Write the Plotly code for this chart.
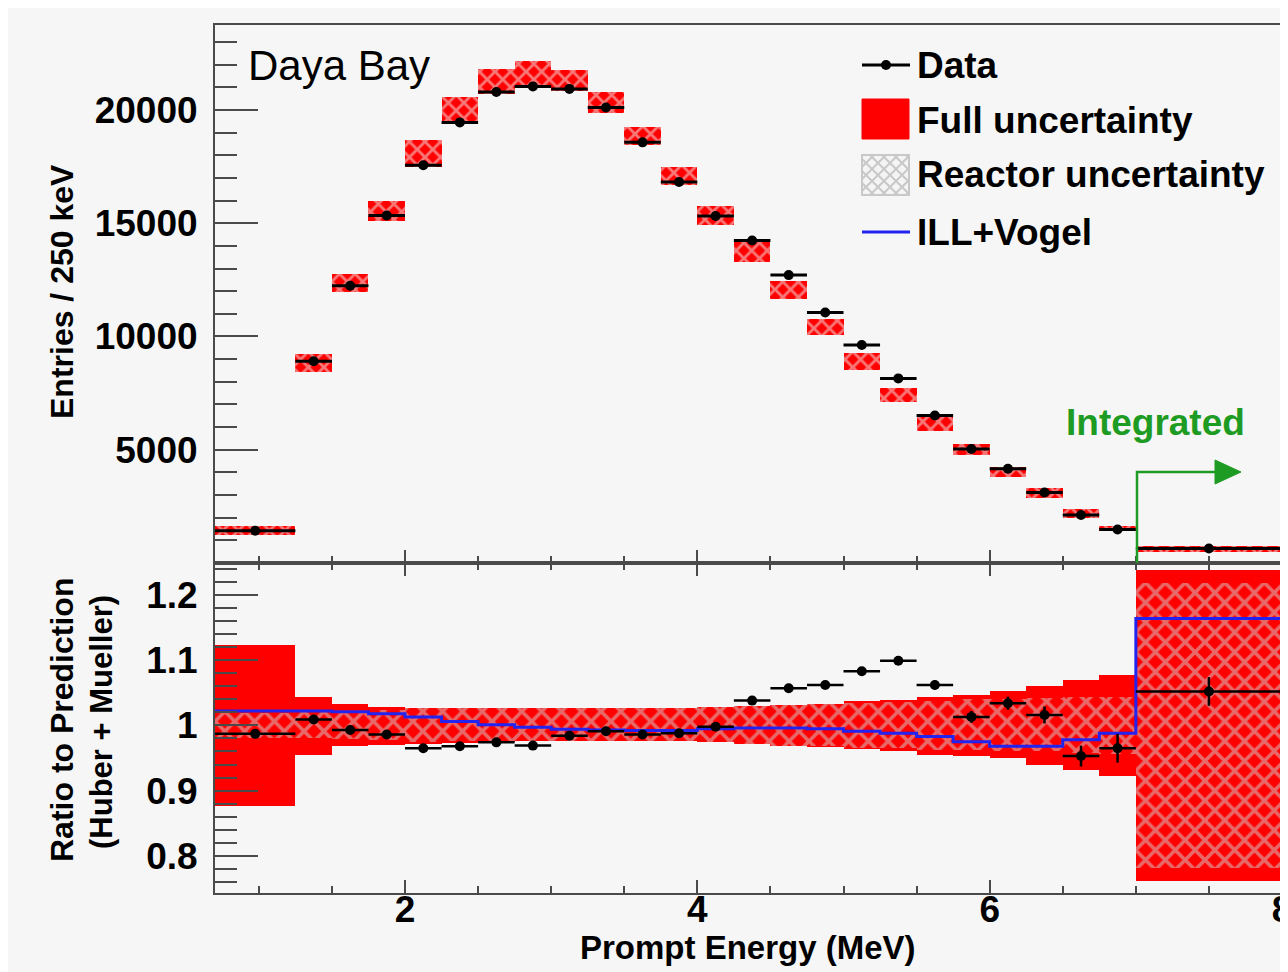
import plotly.graph_objects as go

# ---------------- data ----------------
bin_edges = [0.7, 1.25, 1.5, 1.75, 2.0, 2.25, 2.5, 2.75, 3.0, 3.25, 3.5, 3.75, 4.0,
             4.25, 4.5, 4.75, 5.0, 5.25, 5.5, 5.75, 6.0, 6.25, 6.5, 6.75, 7.0, 8.0]

data_entries = [1420, 8910, 12240, 15340, 17560, 19450, 20790, 21040, 20930, 20110,
                18570, 16820, 15320, 14240, 12710, 11060, 9620, 8150, 6510, 5030,
                4160, 3110, 2120, 1480, 640]
pred_low = [1250, 8430, 11950, 15080, 17490, 19370, 20700, 20960, 20820, 19850,
            18450, 16670, 14900, 13280, 11650, 10080, 8540, 7100, 5810, 4780,
            3790, 2860, 2000, 1410, 490]
pred_high = [1620, 9210, 12750, 15960, 18670, 20590, 21820, 22170, 21770, 20790,
             19260, 17490, 15740, 14160, 12460, 10750, 9260, 7730, 6550, 5250,
             4230, 3300, 2370, 1650, 770]

ratio_data = [0.987, 1.009, 0.993, 0.986, 0.965, 0.968, 0.974, 0.969, 0.984, 0.991,
              0.986, 0.988, 0.998, 1.038, 1.057, 1.062, 1.083, 1.099, 1.062, 1.013,
              1.034, 1.016, 0.953, 0.965, 1.052]
ratio_err = [0.004, 0.004, 0.003, 0.003, 0.003, 0.003, 0.003, 0.003, 0.003, 0.003,
             0.003, 0.003, 0.003, 0.004, 0.004, 0.005, 0.005, 0.006, 0.007, 0.009,
             0.010, 0.013, 0.016, 0.022, 0.022]
full_low = [0.876, 0.955, 0.968, 0.970, 0.972, 0.973, 0.975, 0.976, 0.976, 0.976,
            0.976, 0.976, 0.975, 0.972, 0.968, 0.967, 0.964, 0.960, 0.955, 0.953,
            0.950, 0.940, 0.931, 0.922, 0.761]
full_high = [1.123, 1.044, 1.033, 1.028, 1.027, 1.027, 1.027, 1.027, 1.027, 1.027,
             1.027, 1.027, 1.028, 1.030, 1.032, 1.033, 1.037, 1.039, 1.043, 1.047,
             1.052, 1.061, 1.069, 1.078, 1.238]
reactor_low = [0.981, 0.981, 0.979, 0.977, 0.975, 0.976, 0.976, 0.976, 0.976, 0.976,
               0.976, 0.976, 0.975, 0.972, 0.969, 0.968, 0.966, 0.965, 0.963, 0.962,
               0.961, 0.960, 0.958, 0.956, 0.782]
reactor_high = [1.019, 1.020, 1.021, 1.023, 1.026, 1.027, 1.027, 1.027, 1.027, 1.027,
                1.027, 1.027, 1.028, 1.030, 1.032, 1.033, 1.034, 1.036, 1.038, 1.040,
                1.041, 1.042, 1.043, 1.044, 1.218]
ill_vogel = [1.022, 1.022, 1.021, 1.018, 1.013, 1.006, 1.001, 0.997, 0.994, 0.993,
             0.992, 0.992, 0.995, 0.996, 0.996, 0.995, 0.991, 0.988, 0.983, 0.975,
             0.968, 0.968, 0.978, 0.988, 1.164]

entries_ticks = [5000, 10000, 15000, 20000]
entries_ticktext = ["5000", "10000", "15000", "20000"]
ratio_ticks = [0.8, 0.9, 1.0, 1.1, 1.2]
ratio_ticktext = ["0.8", "0.9", "1", "1.1", "1.2"]
energy_ticks = [2, 4, 6, 8]
energy_ticktext = ["2", "4", "6", "8"]

legend_labels = ["Data", "Full uncertainty", "Reactor uncertainty", "ILL+Vogel"]

# ---------------- derived ----------------
centers = [(a + b) / 2 for a, b in zip(bin_edges[:-1], bin_edges[1:])]
widths = [b - a for a, b in zip(bin_edges[:-1], bin_edges[1:])]
halfw = [w / 2 for w in widths]

FONT = "Liberation Sans, Arial, Helvetica, sans-serif"
RED = "#ff0000"
HATCH_FG = "#d2d2d2"
BG = "#f6f6f6"
AXC = "#4a4a4a"

fig = go.Figure()

# top panel: prediction boxes
fig.add_trace(go.Bar(x=centers, y=[h - l for h, l in zip(pred_high, pred_low)], base=pred_low,
                     width=widths, marker=dict(color=RED, line=dict(width=0)),
                     xaxis="x2", yaxis="y2", showlegend=False, hoverinfo="skip"))
fig.add_trace(go.Bar(x=centers, y=[h - l for h, l in zip(pred_high, pred_low)], base=pred_low,
                     width=widths,
                     marker=dict(color="rgba(0,0,0,0)", line=dict(width=0),
                                 pattern=dict(shape="x", fgcolor="#f0f0f0", size=11, solidity=0.45)),
                     xaxis="x2", yaxis="y2", showlegend=False, hoverinfo="skip"))
fig.add_trace(go.Scatter(x=centers, y=data_entries, mode="markers",
                         marker=dict(color="black", size=10),
                         error_x=dict(type="data", array=halfw, thickness=3, width=0, color="black"),
                         xaxis="x2", yaxis="y2", showlegend=False))

# bottom panel: uncertainty bands
fig.add_trace(go.Bar(x=centers, y=[h - l for h, l in zip(full_high, full_low)], base=full_low,
                     width=widths, marker=dict(color=RED, line=dict(width=0)),
                     xaxis="x", yaxis="y", showlegend=False, hoverinfo="skip"))
fig.add_trace(go.Bar(x=centers, y=[h - l for h, l in zip(reactor_high, reactor_low)], base=reactor_low,
                     width=widths,
                     marker=dict(color="rgba(0,0,0,0)", line=dict(width=0),
                                 pattern=dict(shape="x", fgcolor=HATCH_FG, size=14, solidity=0.45)),
                     xaxis="x", yaxis="y", showlegend=False, hoverinfo="skip"))
# ILL+Vogel step line
fig.add_trace(go.Scatter(x=bin_edges, y=ill_vogel + [ill_vogel[-1]], mode="lines",
                         line=dict(color="#2323f0", width=3, shape="hv"),
                         xaxis="x", yaxis="y", showlegend=False))
fig.add_trace(go.Scatter(x=centers, y=ratio_data, mode="markers",
                         marker=dict(color="black", size=10),
                         error_x=dict(type="data", array=halfw, thickness=2.5, width=0, color="black"),
                         error_y=dict(type="data", array=ratio_err, thickness=2.5, width=0, color="black"),
                         xaxis="x", yaxis="y", showlegend=False))

# ---------------- layout ----------------
# the page body adds an 8 px offset; size the figure so the plot lands where the reference has it
OFF = 8
W, H = 1288 - OFF, 972 - OFF
PL, PR, PT, PB = 215, 1282, 25, 893          # plot box in page pixels
L, R, T, B = PL - OFF, W - (PR - OFF), PT - OFF, H - (PB - OFF)
PW, PH = PR - PL, PB - PT
split_px = 563
split = (PB - split_px) / PH


def px(xp):
    return (xp - PL) / PW


def py(yp):
    return (PB - yp) / PH


tickfont = dict(family=FONT, size=37, color="black", weight="bold")
common_x = dict(range=[0.7, 8.0], showline=True, linecolor=AXC, linewidth=2,
                ticks="inside", ticklen=13, tickwidth=2, tickcolor=AXC,
                tickmode="array", tickvals=energy_ticks, ticktext=energy_ticktext,
                showgrid=False, zeroline=False, automargin=False,
                minor=dict(ticks="inside", ticklen=7, tickwidth=2, tickcolor=AXC,
                           tickmode="linear", tick0=0, dtick=0.5, showgrid=False))
fig.update_layout(
    width=W, height=H,
    margin=dict(l=L, r=R, t=T, b=B, autoexpand=False),
    paper_bgcolor=BG, plot_bgcolor=BG,
    barmode="overlay", bargap=0,
    showlegend=False,
    font=dict(family=FONT, color="black"),
    xaxis=dict(**common_x, anchor="y", mirror="ticks", tickfont=tickfont, ticklabelstandoff=-17,
               ticklabeloverflow="allow"),
    xaxis2=dict(**common_x, anchor="y2", matches="x", mirror=True, showticklabels=False),
    yaxis=dict(domain=[0, split], range=[0.743, 1.249], showline=True, linecolor=AXC, linewidth=2,
               mirror=True, ticks="inside", ticklen=43, tickwidth=2, tickcolor=AXC,
               tickmode="array", tickvals=ratio_ticks, ticktext=ratio_ticktext,
               tickfont=tickfont, showgrid=False, zeroline=False, ticklabelstandoff=8,
               automargin=False,
               minor=dict(ticks="inside", ticklen=22, tickwidth=2, tickcolor=AXC,
                          tickmode="linear", dtick=0.02, tick0=0, showgrid=False)),
    yaxis2=dict(domain=[split, 1], range=[0, 23750], showline=True, linecolor=AXC, linewidth=2,
                mirror=True, ticks="inside", ticklen=43, tickwidth=2, tickcolor=AXC,
                tickmode="array", tickvals=entries_ticks, ticktext=entries_ticktext,
                tickfont=tickfont, showgrid=False, zeroline=False, ticklabelstandoff=8,
                automargin=False,
                minor=dict(ticks="inside", ticklen=22, tickwidth=2, tickcolor=AXC,
                           tickmode="linear", dtick=1000, tick0=0, showgrid=False)),
)

ann = []
# axis titles
ann.append(dict(text="Prompt Energy (MeV)", x=px(748), y=py(947), xref="paper", yref="paper",
                showarrow=False, xanchor="center", yanchor="middle",
                font=dict(family=FONT, size=33, weight="bold", color="black")))
ann.append(dict(text="Entries / 250 keV", x=px(62), y=py(292), xref="paper", yref="paper",
                showarrow=False, textangle=-90, xanchor="center", yanchor="middle",
                font=dict(family=FONT, size=32, weight="bold", color="black")))
ann.append(dict(text="Ratio to Prediction", x=px(62), y=py(720), xref="paper", yref="paper",
                showarrow=False, textangle=-90, xanchor="center", yanchor="middle",
                font=dict(family=FONT, size=32, weight="bold", color="black")))
ann.append(dict(text="(Huber + Mueller)", x=px(101), y=py(722), xref="paper", yref="paper",
                showarrow=False, textangle=-90, xanchor="center", yanchor="middle",
                font=dict(family=FONT, size=31, weight="bold", color="black")))
# labels
ann.append(dict(text="Daya Bay", x=px(246), y=py(65), xref="paper", yref="paper",
                showarrow=False, xanchor="left", yanchor="middle",
                font=dict(family=FONT, size=42, color="black")))
ann.append(dict(text="Integrated", x=px(1155), y=py(423), xref="paper", yref="paper",
                showarrow=False, xanchor="center", yanchor="middle",
                font=dict(family=FONT, size=37, weight="bold", color="#1e9b22")))

# legend (drawn)
leg_y = [65, 120, 175, 232]
for lab, yy in zip(legend_labels, leg_y):
    ann.append(dict(text=lab, x=px(915), y=py(yy), xref="paper", yref="paper",
                    showarrow=False, xanchor="left", yanchor="middle",
                    font=dict(family=FONT, size=37, weight="bold", color="black")))

shapes = []
# Data legend item
shapes.append(dict(type="line", xref="paper", yref="paper", x0=px(862), x1=px(910),
                   y0=py(65), y1=py(65), line=dict(color="black", width=3)))
shapes.append(dict(type="circle", xref="paper", yref="paper", x0=px(881), x1=px(891),
                   y0=py(70), y1=py(60), fillcolor="black", line=dict(width=0)))
# Full uncertainty
shapes.append(dict(type="rect", xref="paper", yref="paper", x0=px(862), x1=px(909),
                   y0=py(139), y1=py(99), fillcolor=RED, line=dict(color=RED, width=1)))
# Reactor uncertainty swatch (hatched)
rx0, rx1, ry0, ry1 = 862, 909, 155, 195
shapes.append(dict(type="rect", xref="paper", yref="paper", x0=px(rx0), x1=px(rx1),
                   y0=py(ry1), y1=py(ry0), fillcolor="#f4f4f4", line=dict(color="#c8c8c8", width=2)))
segs = []
hgt = ry1 - ry0
k = -hgt
while k <= (rx1 - rx0):
    xa, xb = max(rx0, rx0 + k), min(rx1, rx0 + k + hgt)
    if xb > xa:
        segs.append(((xa, ry0 + (xa - rx0 - k)), (xb, ry0 + (xb - rx0 - k))))
        segs.append(((xa, ry1 - (xa - rx0 - k)), (xb, ry1 - (xb - rx0 - k))))
    k += 12
path = " ".join(f"M{px(a[0]):.5f},{py(a[1]):.5f} L{px(b[0]):.5f},{py(b[1]):.5f}" for a, b in segs)
shapes.append(dict(type="path", xref="paper", yref="paper", path=path,
                   line=dict(color="#c8c8c8", width=2)))
# ILL+Vogel legend line
shapes.append(dict(type="line", xref="paper", yref="paper", x0=px(862), x1=px(910),
                   y0=py(232), y1=py(232), line=dict(color="#2323f0", width=3)))

# Integrated arrow (green)
GREEN = "#1e9b22"
shapes.append(dict(type="path", xref="paper", yref="paper",
                   path=f"M{px(1137)},{py(563)} L{px(1137)},{py(472)} L{px(1217)},{py(472)}",
                   line=dict(color=GREEN, width=2.5)))
shapes.append(dict(type="path", xref="paper", yref="paper",
                   path=f"M{px(1215)},{py(460)} L{px(1241)},{py(472)} L{px(1215)},{py(484)} Z",
                   fillcolor=GREEN, line=dict(color=GREEN, width=1)))

fig.update_layout(annotations=ann, shapes=shapes)

fig.write_html("out.html")
